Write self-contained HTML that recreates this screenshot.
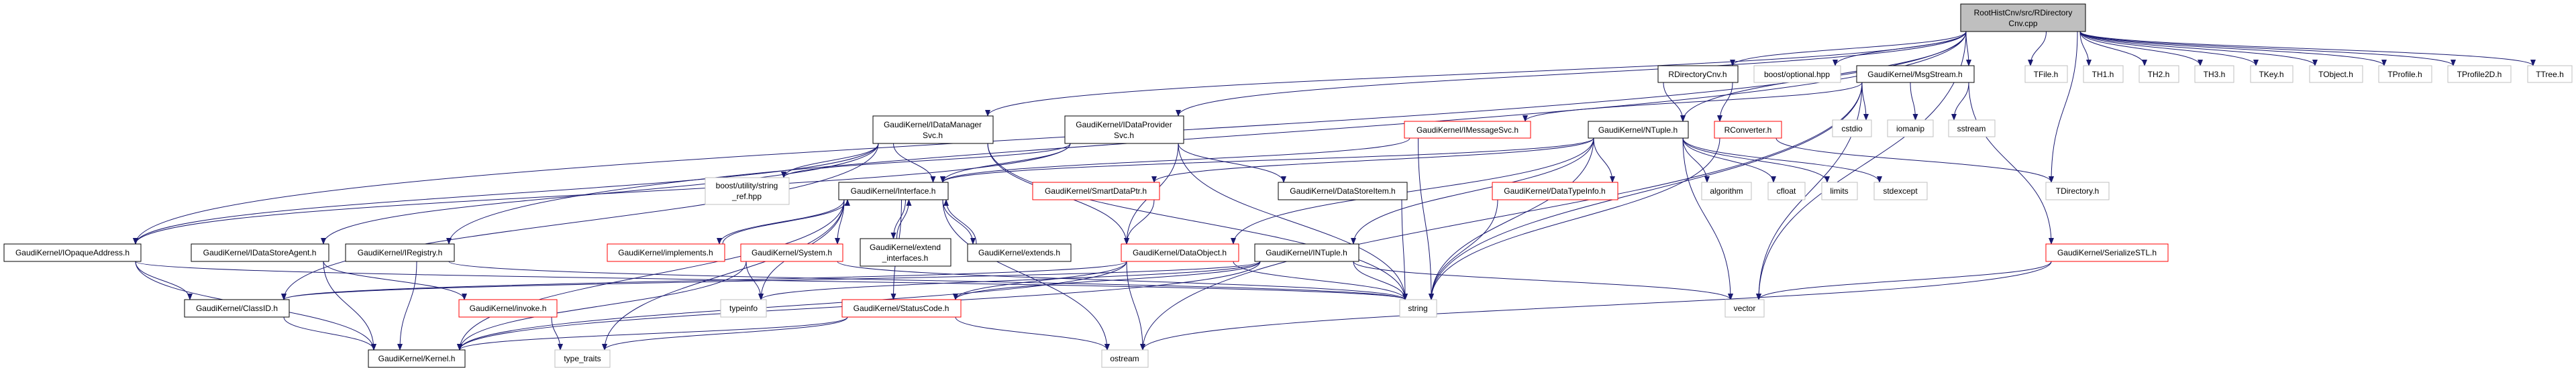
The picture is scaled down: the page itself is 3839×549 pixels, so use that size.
<!DOCTYPE html>
<html><head><meta charset="utf-8"><style>
html,body{margin:0;padding:0;background:#fff;width:3839px;height:549px;overflow:hidden}
svg text{font-family:"Liberation Sans",sans-serif;font-size:12px;fill:#000}
</style></head><body>
<svg id="g" width="3839" height="549" xmlns="http://www.w3.org/2000/svg">
<defs><marker id="ah" markerWidth="10" markerHeight="8" refX="9" refY="4" orient="auto" markerUnits="userSpaceOnUse"><polygon points="0,0 10,4 0,8" fill="#191970"/></marker></defs>
<g id="edges" fill="none" stroke="#191970" stroke-width="1"></g>
<g id="nodes" stroke-width="1">
<rect x="2922" y="6" width="186" height="41" fill="#bfbfbf" stroke="#000"/><text x="3015" y="23" text-anchor="middle">RootHistCnv/src/RDirectory</text><text x="3015" y="39" text-anchor="middle">Cnv.cpp</text>
<rect x="6" y="364" width="204" height="26" fill="#fff" stroke="#000"/><text x="108" y="381" text-anchor="middle">GaudiKernel/IOpaqueAddress.h</text>
<rect x="285" y="364" width="205" height="26" fill="#fff" stroke="#000"/><text x="387" y="381" text-anchor="middle">GaudiKernel/IDataStoreAgent.h</text>
<rect x="515" y="364" width="162" height="26" fill="#fff" stroke="#000"/><text x="596" y="381" text-anchor="middle">GaudiKernel/IRegistry.h</text>
<rect x="905" y="364" width="175" height="26" fill="#fff" stroke="#f00"/><text x="992" y="381" text-anchor="middle">GaudiKernel/implements.h</text>
<rect x="1104" y="364" width="152" height="26" fill="#fff" stroke="#f00"/><text x="1180" y="381" text-anchor="middle">GaudiKernel/System.h</text>
<rect x="1051" y="265" width="125" height="40" fill="#fff" stroke="#bfbfbf"/><text x="1113" y="281" text-anchor="middle">boost/utility/string</text><text x="1113" y="297" text-anchor="middle">_ref.hpp</text>
<rect x="275" y="447" width="156" height="26" fill="#fff" stroke="#000"/><text x="353" y="464" text-anchor="middle">GaudiKernel/ClassID.h</text>
<rect x="684" y="447" width="146" height="26" fill="#fff" stroke="#f00"/><text x="757" y="464" text-anchor="middle">GaudiKernel/invoke.h</text>
<rect x="1074" y="447" width="68" height="26" fill="#fff" stroke="#bfbfbf"/><text x="1108" y="464" text-anchor="middle">typeinfo</text>
<rect x="549" y="522" width="144" height="26" fill="#fff" stroke="#000"/><text x="621" y="539" text-anchor="middle">GaudiKernel/Kernel.h</text>
<rect x="827" y="522" width="82" height="26" fill="#fff" stroke="#bfbfbf"/><text x="868" y="539" text-anchor="middle">type_traits</text>
<rect x="1301" y="173" width="179" height="41" fill="#fff" stroke="#000"/><text x="1390" y="190" text-anchor="middle">GaudiKernel/IDataManager</text><text x="1390" y="206" text-anchor="middle">Svc.h</text>
<rect x="1587" y="173" width="177" height="41" fill="#fff" stroke="#000"/><text x="1675" y="190" text-anchor="middle">GaudiKernel/IDataProvider</text><text x="1675" y="206" text-anchor="middle">Svc.h</text>
<rect x="2093" y="181" width="188" height="25" fill="#fff" stroke="#f00"/><text x="2187" y="198" text-anchor="middle">GaudiKernel/IMessageSvc.h</text>
<rect x="2367" y="181" width="149" height="25" fill="#fff" stroke="#000"/><text x="2441" y="198" text-anchor="middle">GaudiKernel/NTuple.h</text>
<rect x="2471" y="98" width="119" height="25" fill="#fff" stroke="#000"/><text x="2530" y="115" text-anchor="middle">RDirectoryCnv.h</text>
<rect x="1250" y="272" width="163" height="26" fill="#fff" stroke="#000"/><text x="1331" y="289" text-anchor="middle">GaudiKernel/Interface.h</text>
<rect x="1539" y="272" width="189" height="26" fill="#fff" stroke="#f00"/><text x="1633" y="289" text-anchor="middle">GaudiKernel/SmartDataPtr.h</text>
<rect x="1905" y="272" width="192" height="26" fill="#fff" stroke="#000"/><text x="2001" y="289" text-anchor="middle">GaudiKernel/DataStoreItem.h</text>
<rect x="2224" y="272" width="187" height="26" fill="#fff" stroke="#f00"/><text x="2317" y="289" text-anchor="middle">GaudiKernel/DataTypeInfo.h</text>
<rect x="2536" y="272" width="74" height="26" fill="#fff" stroke="#bfbfbf"/><text x="2573" y="289" text-anchor="middle">algorithm</text>
<rect x="1282" y="356" width="135" height="41" fill="#fff" stroke="#000"/><text x="1349" y="373" text-anchor="middle">GaudiKernel/extend</text><text x="1349" y="389" text-anchor="middle">_interfaces.h</text>
<rect x="1442" y="364" width="154" height="26" fill="#fff" stroke="#000"/><text x="1519" y="381" text-anchor="middle">GaudiKernel/extends.h</text>
<rect x="1671" y="364" width="175" height="26" fill="#fff" stroke="#f00"/><text x="1758" y="381" text-anchor="middle">GaudiKernel/DataObject.h</text>
<rect x="1870" y="364" width="155" height="26" fill="#fff" stroke="#000"/><text x="1947" y="381" text-anchor="middle">GaudiKernel/INTuple.h</text>
<rect x="1255" y="447" width="177" height="26" fill="#fff" stroke="#f00"/><text x="1343" y="464" text-anchor="middle">GaudiKernel/StatusCode.h</text>
<rect x="2086" y="447" width="55" height="26" fill="#fff" stroke="#bfbfbf"/><text x="2113" y="464" text-anchor="middle">string</text>
<rect x="1642" y="522" width="69" height="26" fill="#fff" stroke="#bfbfbf"/><text x="1676" y="539" text-anchor="middle">ostream</text>
<rect x="2614" y="98" width="129" height="25" fill="#fff" stroke="#bfbfbf"/><text x="2678" y="115" text-anchor="middle">boost/optional.hpp</text>
<rect x="2767" y="98" width="175" height="25" fill="#fff" stroke="#000"/><text x="2854" y="115" text-anchor="middle">GaudiKernel/MsgStream.h</text>
<rect x="3018" y="98" width="63" height="25" fill="#fff" stroke="#bfbfbf"/><text x="3049" y="115" text-anchor="middle">TFile.h</text>
<rect x="3105" y="98" width="59" height="25" fill="#fff" stroke="#bfbfbf"/><text x="3134" y="115" text-anchor="middle">TH1.h</text>
<rect x="3188" y="98" width="59" height="25" fill="#fff" stroke="#bfbfbf"/><text x="3217" y="115" text-anchor="middle">TH2.h</text>
<rect x="3271" y="98" width="58" height="25" fill="#fff" stroke="#bfbfbf"/><text x="3300" y="115" text-anchor="middle">TH3.h</text>
<rect x="3354" y="98" width="63" height="25" fill="#fff" stroke="#bfbfbf"/><text x="3385" y="115" text-anchor="middle">TKey.h</text>
<rect x="3442" y="98" width="79" height="25" fill="#fff" stroke="#bfbfbf"/><text x="3481" y="115" text-anchor="middle">TObject.h</text>
<rect x="3545" y="98" width="79" height="25" fill="#fff" stroke="#bfbfbf"/><text x="3584" y="115" text-anchor="middle">TProfile.h</text>
<rect x="3648" y="98" width="94" height="25" fill="#fff" stroke="#bfbfbf"/><text x="3695" y="115" text-anchor="middle">TProfile2D.h</text>
<rect x="3767" y="98" width="66" height="25" fill="#fff" stroke="#bfbfbf"/><text x="3800" y="115" text-anchor="middle">TTree.h</text>
<rect x="2555" y="181" width="100" height="25" fill="#fff" stroke="#f00"/><text x="2605" y="198" text-anchor="middle">RConverter.h</text>
<rect x="2731" y="179" width="58" height="25" fill="#fff" stroke="#bfbfbf"/><text x="2760" y="196" text-anchor="middle">cstdio</text>
<rect x="2813" y="179" width="68" height="25" fill="#fff" stroke="#bfbfbf"/><text x="2847" y="196" text-anchor="middle">iomanip</text>
<rect x="2904" y="179" width="69" height="25" fill="#fff" stroke="#bfbfbf"/><text x="2938" y="196" text-anchor="middle">sstream</text>
<rect x="2635" y="272" width="55" height="26" fill="#fff" stroke="#bfbfbf"/><text x="2662" y="289" text-anchor="middle">cfloat</text>
<rect x="2715" y="272" width="53" height="26" fill="#fff" stroke="#bfbfbf"/><text x="2741" y="289" text-anchor="middle">limits</text>
<rect x="2793" y="272" width="79" height="26" fill="#fff" stroke="#bfbfbf"/><text x="2832" y="289" text-anchor="middle">stdexcept</text>
<rect x="3049" y="272" width="94" height="26" fill="#fff" stroke="#bfbfbf"/><text x="3096" y="289" text-anchor="middle">TDirectory.h</text>
<rect x="3049" y="364" width="182" height="26" fill="#fff" stroke="#f00"/><text x="3140" y="381" text-anchor="middle">GaudiKernel/SerializeSTL.h</text>
<rect x="2571" y="447" width="58" height="26" fill="#fff" stroke="#bfbfbf"/><text x="2600" y="464" text-anchor="middle">vector</text>
</g>
</svg>
<script>
var N={root:[2922,3108,6,47],iop:[6,210,364,390],idsa:[285,490,364,390],ireg:[515,677,364,390],impl:[905,1080,364,390],sys:[1104,1256,364,390],sref:[1051,1176,265,305],cid:[275,431,447,473],inv:[684,830,447,473],tinfo:[1074,1142,447,473],ker:[549,693,522,548],tt:[827,909,522,548],idms:[1301,1480,173,214],idps:[1587,1764,173,214],imsg:[2093,2281,181,206],nt:[2367,2516,181,206],rdc:[2471,2590,98,123],itf:[1250,1413,272,298],sdp:[1539,1728,272,298],dsi:[1905,2097,272,298],dti:[2224,2411,272,298],alg:[2536,2610,272,298],ext:[1282,1417,356,397],exts:[1442,1596,364,390],dobj:[1671,1846,364,390],intp:[1870,2025,364,390],sc:[1255,1432,447,473],str:[2086,2141,447,473],ost:[1642,1711,522,548],opt:[2614,2743,98,123],msg:[2767,2942,98,123],tf:[3018,3081,98,123],th1:[3105,3164,98,123],th2:[3188,3247,98,123],th3:[3271,3329,98,123],tkey:[3354,3417,98,123],tobj:[3442,3521,98,123],tpr:[3545,3624,98,123],tpr2:[3648,3742,98,123],ttr:[3767,3833,98,123],rconv:[2555,2655,181,206],cstdio:[2731,2789,179,204],ioman:[2813,2881,179,204],sstr:[2904,2973,179,204],cfl:[2635,2690,272,298],lim:[2715,2768,272,298],stdex:[2793,2872,272,298],tdir:[3049,3143,272,298],ser:[3049,3231,364,390],vec:[2571,2629,447,473]};
var E="root iop,root ireg,root idms,root idps,root rdc,root nt,root opt,root msg,root tf,root th1,root th2,root th3,root tkey,root tobj,root tpr,root tpr2,root ttr,root tdir,root vec,rdc nt,rdc rconv,msg imsg,msg cstdio,msg ioman,msg sstr,msg str,msg vec,msg ost,msg ser,rconv tdir,rconv str,nt itf,nt dobj,nt dti,nt sdp,nt intp,nt alg,nt cfl,nt lim,nt stdex,nt str,nt vec,idms itf,idms dobj,idms cid,idms iop,idms str,idms sref,idms idsa,idps itf,idps dobj,idps dsi,idps str,idps sref,idps iop,itf impl,itf ext,itf exts,itf sys,itf ker,itf sc,itf tinfo,itf tt,itf ost,impl itf,ext itf,exts itf,sys ker,sys tinfo,sys str,dobj cid,dobj sc,dobj str,dobj ost,dobj ker,intp ker,intp sc,intp str,intp tinfo,intp vec,intp cid,iop cid,iop ker,iop str,idsa ker,idsa inv,ireg ker,ireg str,cid ker,inv tt,sc ker,sc ost,sc tt,ser vec,ser ost,dsi str,dti str,sdp dobj,imsg str,imsg itf".split(",");
var g=document.getElementById("edges"),s="";
function cl(v,a,b){return Math.max(a+8,Math.min(b-8,v));}
E.forEach(function(e){var p=e.split(" "),a=N[p[0]],b=N[p[1]];if(!a||!b)return;
var acx=(a[0]+a[1])/2,bcx=(b[0]+b[1])/2,x1,y1,x2,y2,d;
if(b[2]>=a[3]-2){x1=cl(bcx,a[0],a[1]);y1=a[3];x2=cl(acx,b[0],b[1]);y2=b[2];var dy=(y2-y1)*0.5;
d="M"+x1+" "+y1+" C"+x1+" "+(y1+dy)+" "+x2+" "+(y2-dy)+" "+x2+" "+y2;}
else if(b[3]<=a[2]+2){x1=cl(bcx,a[0],a[1])+5;y1=a[2];x2=cl(acx,b[0],b[1])+5;y2=b[3];var dy=(y1-y2)*0.5;
d="M"+x1+" "+y1+" C"+x1+" "+(y1-dy)+" "+x2+" "+(y2+dy)+" "+x2+" "+y2;}
else{y1=(a[2]+a[3])/2;x1=bcx>acx?a[1]:a[0];x2=bcx>acx?b[0]:b[1];y2=(b[2]+b[3])/2;d="M"+x1+" "+y1+" C"+(x1+x2)/2+" "+(y1+30)+" "+(x1+x2)/2+" "+(y2+30)+" "+x2+" "+y2;}
s+='<path d="'+d+'" marker-end="url(#ah)"/>';});
g.innerHTML=s;
</script>
</body></html>
